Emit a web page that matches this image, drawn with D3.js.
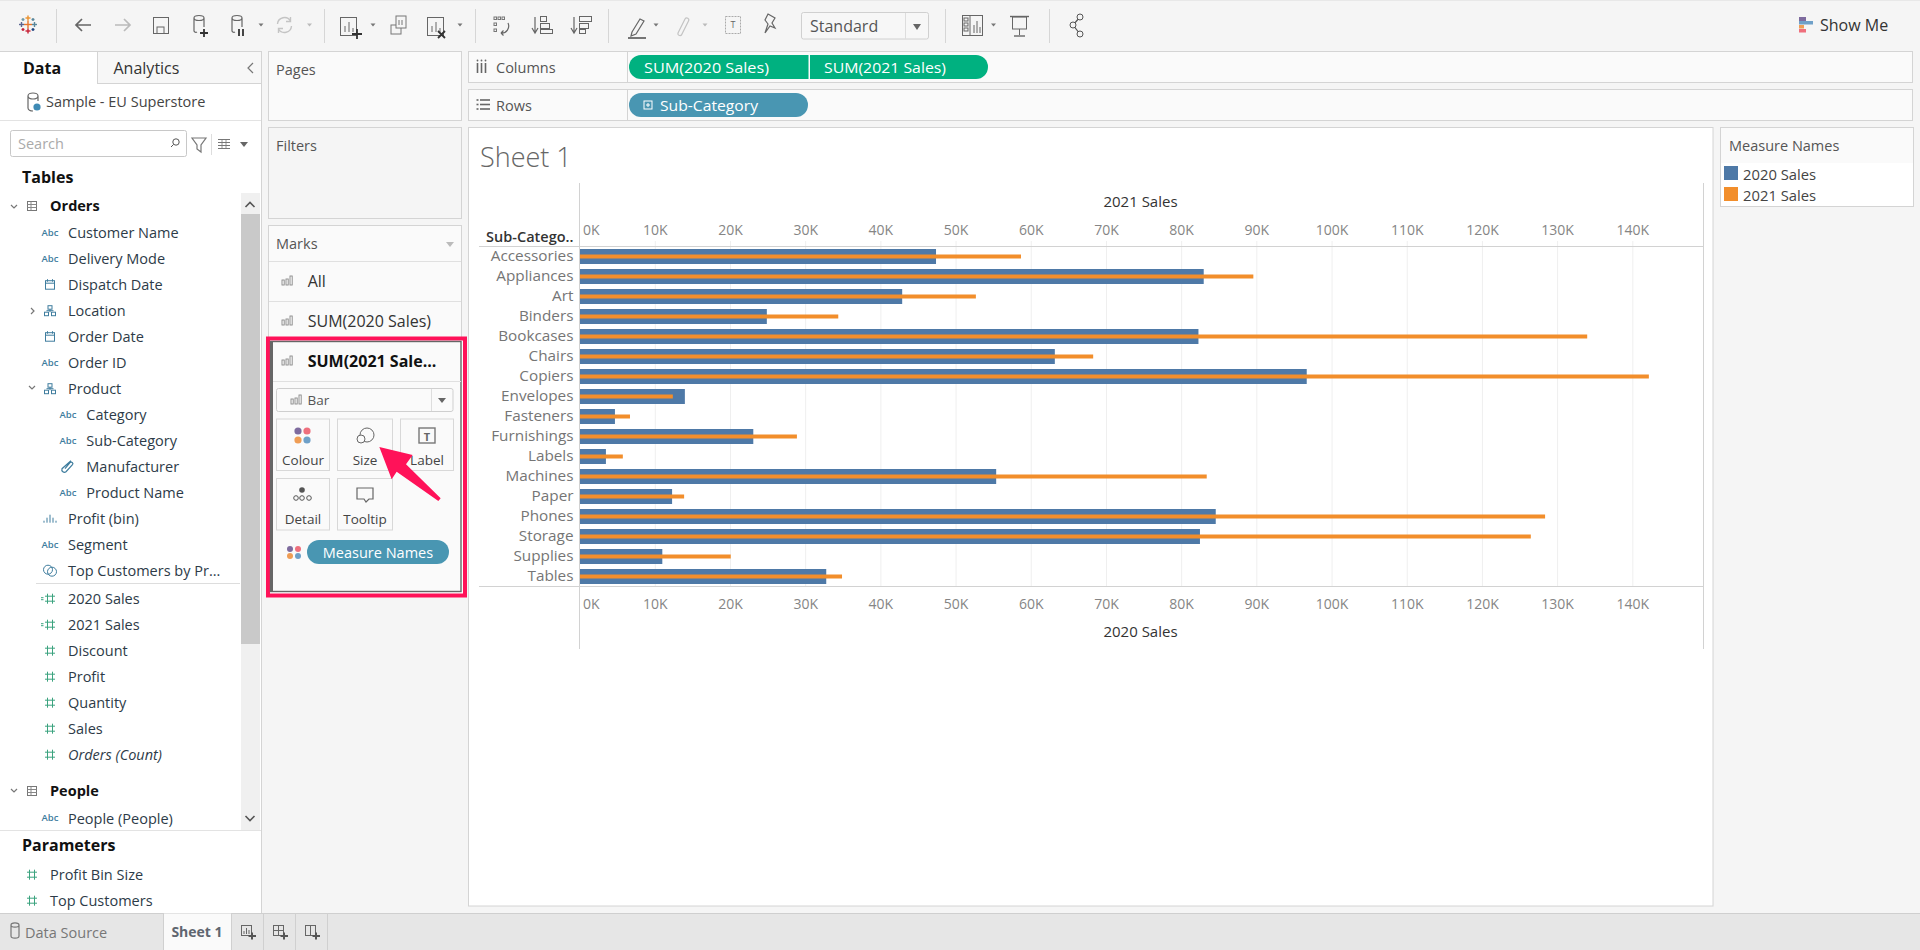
<!DOCTYPE html>
<html><head><meta charset="utf-8">
<script src="https://cdn.jsdelivr.net/npm/d3@7/dist/d3.min.js"></script>
<style>
html,body{margin:0;padding:0;background:#f5f5f5;overflow:hidden}
svg{display:block}
text{font-family:"Open Sans","Noto Sans",sans-serif}
</style></head><body>
<svg id="app" width="1920" height="950"></svg>
<script>
// ---------- chart data ----------
const subCategories = ["Accessories","Appliances","Art","Binders","Bookcases","Chairs","Copiers","Envelopes","Fasteners","Furnishings","Labels","Machines","Paper","Phones","Storage","Supplies","Tables"];
const sales2020 = [47.4,83.0,42.9,24.9,82.3,63.2,96.7,14.0,4.7,23.1,3.5,55.4,12.3,84.6,82.5,11.0,32.8];
const sales2021 = [58.7,89.6,52.7,34.4,134.0,68.3,142.2,12.4,6.7,28.9,5.75,83.4,13.9,128.4,126.5,20.1,34.9];
const axisTicks = [0,10,20,30,40,50,60,70,80,90,100,110,120,130,140];
const legendItems = ["2020 Sales","2021 Sales"];
const legendColors = ["#4e79a7","#f28e2b"];
// ---------- side pane lists ----------
const dimensionFields = [["Customer Name","abc",0],["Delivery Mode","abc",0],["Dispatch Date","date",0],["Location","hier",0],["Order Date","date",0],["Order ID","abc",0],["Product","hier",0],["Category","abc",1],["Sub-Category","abc",1],["Manufacturer","clip",1],["Product Name","abc",1],["Profit (bin)","bin",0],["Segment","abc",0],["Top Customers by Pr...","set",0]];
const measureFields = [["2020 Sales","calc"],["2021 Sales","calc"],["Discount","num"],["Profit","num"],["Quantity","num"],["Sales","num"],["Orders (Count)","num"]];
const parameterFields = ["Profit Bin Size","Top Customers"];

const base = d3.select("#app");
let svg = base;
const CARD="#fafafa", LINE="#d4d4d4", INK="#2d3b48", GREY="#666";
const FONT = '"Open Sans","Noto Sans",sans-serif';
function rect(x,y,w,h,fill,stroke,sw,rx){const r=svg.append("rect").attr("x",x).attr("y",y).attr("width",w).attr("height",h).attr("fill",fill||"none");if(stroke)r.attr("stroke",stroke).attr("stroke-width",sw||1);if(rx)r.attr("rx",rx);return r;}
function line(x1,y1,x2,y2,c,w){return svg.append("line").attr("x1",x1).attr("y1",y1).attr("x2",x2).attr("y2",y2).attr("stroke",c||LINE).attr("stroke-width",w||1);}
function text(s,x,y,size,fill,o){o=o||{};const t=svg.append("text").text(s).attr("x",x).attr("y",y).attr("font-size",size).attr("fill",fill||INK).attr("dominant-baseline","central").attr("text-anchor",o.anchor||"start");if(o.weight)t.attr("font-weight",o.weight);if(o.style)t.attr("font-style",o.style);if(o.family)t.attr("font-family",o.family);if(o.len)t.attr("textLength",o.len).attr("lengthAdjust","spacingAndGlyphs");return t;}
function path(d,o){o=o||{};return svg.append("path").attr("d",d).attr("fill",o.fill||"none").attr("stroke",o.stroke||(o.fill?"none":"#666")).attr("stroke-width",o.w||1.2);}

// ---------- page frame ----------
rect(0,0,1920,950,"#f5f5f5");
line(0,0.5,1920,0.5,"#e8e8e8");
// left data pane
rect(0,51,261,862,"#fff");
line(261.5,51,261.5,913,LINE);
rect(98,51,163,32.5,"#f7f7f7");
line(98,51.5,261,51.5,LINE);
line(0,51.5,98,51.5,LINE);
line(98,83.5,261,83.5,LINE);
line(97.5,51,97.5,84,LINE);
text("Data",23,67.5,16,"#111",{weight:700});
text("Analytics",113.5,67.5,16,"#333");
path("M253 63 L248 68 L253 73",{stroke:"#777",w:1.2});
// datasource
path("M28 96 a5 3 0 0 1 10 0 v5 M28 96 v12 a5 3 0 0 0 5 3 M28 96 a5 3 0 0 0 10 0",{stroke:"#666"});
svg.append("circle").attr("cx",37).attr("cy",107).attr("r",3.6).attr("fill","#3f8bb5");
text("Sample - EU Superstore",46,101.5,14.5,"#444");
line(0,120.5,261,120.5,"#e3e3e3");
// search
rect(10.5,130.5,176,26,"#fff","#c8c8c8",1,2);
text("Search",18,143.5,14.5,"#aaa");
svg.append("circle").attr("cx",176).attr("cy",142).attr("r",3.2).attr("fill","none").attr("stroke","#555");
line(173.5,144.5,171,147,"#555");
path("M192 138 H206 L201 145 V152 L197 149 V145 Z",{stroke:"#777"});
line(211.5,134,211.5,155,"#ddd");
[139,142,145,148].forEach(y=>line(218,y+0.5,230,y+0.5,"#777",1));
[222,226].forEach(x=>line(x,139,x,149,"#777",0.8));
path("M240 142 H248 L244 147 Z",{fill:"#666"});
text("Tables",22,176.5,16,"#111",{weight:700});
// scrollbar
rect(241,193,19,637,"#f0f0f0");
rect(241,214,19,430,"#c9c9c9");
path("M245.5 207 L250 202.5 L254.5 207",{stroke:"#555",w:1.6});
path("M245.5 816 L250 820.5 L254.5 816",{stroke:"#555",w:1.6});

function tableIcon(y){rect(27.5,y-4.5,9,9,"#fff","#777");line(27.5,y-1.5,36.5,y-1.5,"#888");line(27.5,y+1.5,36.5,y+1.5,"#888");line(31,y-4.5,31,y+4.5,"#888");}
function chevDown(x,y){path(`M${x-3} ${y-2} L${x} ${y+1} L${x+3} ${y-2}`,{stroke:"#777"});}
function fieldIcon(kind,x,y){
  const c="#3f7d9e", g="#3ba37e";
  if(kind==="abc") text("Abc",x,y-0.5,9.5,c,{anchor:"middle",weight:600});
  if(kind==="date"){rect(x-4.5,y-4,9,8.5,"none",c);line(x-4.5,y-1.5,x+4.5,y-1.5,c);line(x-2.5,y-5.5,x-2.5,y-3,c);line(x+2.5,y-5.5,x+2.5,y-3,c);}
  if(kind==="hier"){rect(x-2,y-5,4,3.5,"none",c);rect(x-5.5,y+1.5,4,3.5,"none",c);rect(x+1.5,y+1.5,4,3.5,"none",c);line(x,y-1.5,x,y+1.5,c);line(x-3.5,y,x+3.5,y,c);}
  if(kind==="clip"){path(`M${x-3} ${y+2} L${x+2} ${y-4} a1.6 1.6 0 0 1 2.5 2 L${x-2} ${y+5} a2.6 2.6 0 0 1 -4 -3 L${x+3} ${y-6}`,{stroke:c});}
  if(kind==="bin"){[-6,-3,0,3,6].forEach((d,i)=>line(x+d,y+4,x+d,y+4-[2,5,8,5,2][i],c));}
  if(kind==="set"){svg.append("circle").attr("cx",x-2).attr("cy",y-1).attr("r",4.5).attr("fill","none").attr("stroke",c);svg.append("circle").attr("cx",x+2).attr("cy",y+1).attr("r",4.5).attr("fill","none").attr("stroke",c);}
  if(kind==="num"||kind==="calc"){[-2.5,2.5].forEach(d=>{line(x+d,y-5,x+d,y+5,g);line(x-5,y+d,x+5,y+d,g);});if(kind==="calc"){line(x-9,y-1,x-6.5,y-1,g);line(x-9,y+1,x-6.5,y+1,g);}}
}
chevDown(14,207);tableIcon(206);
text("Orders",50,205.5,14.5,"#111",{weight:700});
dimensionFields.forEach((f,i)=>{
  const y=232.7+26*i, x=f[2]?86.3:68;
  fieldIcon(f[1],f[2]?68:50,y);
  text(f[0],x,y,14.5,INK);
});
path("M31 308 L34 311 L31 314",{stroke:"#777"});
chevDown(32,388);
line(36,583.5,240,583.5,"#ddd");
measureFields.forEach((f,i)=>{
  const y=598.7+26*i;
  fieldIcon(f[1],50,y);
  text(f[0],68,y,14.5,INK,i===6?{style:"italic"}:{});
});
chevDown(14,791);tableIcon(791);
text("People",50,790.5,14.5,"#111",{weight:700});
fieldIcon("abc",50,818);text("People (People)",68,818,14.5,INK);
line(0,830.5,261,830.5,"#e3e3e3");
text("Parameters",22,845,16,"#111",{weight:700});
parameterFields.forEach((f,i)=>{const y=874.7+26*i;fieldIcon("num",32,y);text(f,50,y,14.5,INK);});
// bottom tabs
rect(0,913,1920,37,"#e6e6e6");
line(0,913.5,1920,913.5,"#cfcfcf");
path("M11 925 a4 2.2 0 0 1 8 0 v11 a4 2.2 0 0 1 -8 0 Z M11 925 a4 2.2 0 0 0 8 0",{stroke:"#777"});
text("Data Source",25,932,14.5,"#777");
rect(163,913.5,68,37,"#fafafa");
line(163.5,913,163.5,950,"#d0d0d0");line(231.5,913,231.5,950,"#d0d0d0");
text("Sheet 1",197,931,14,"#5f6670",{anchor:"middle",weight:700});
[263.5,295.5,327.5].forEach(x=>line(x,913,x,950,"#d0d0d0"));
[[241,0],[273,1],[305,2]].forEach(([x,k])=>{
  rect(x+.5,925.5,10,10,"none","#666");
  if(k===0){line(x+3,934,x+3,931,"#666");line(x+5.5,934,x+5.5,928,"#666");line(x+8,934,x+8,930,"#666");}
  if(k===1){line(x,930.5,x+10.5,930.5,"#666");line(x+5.5,925.5,x+5.5,935.5,"#666");}
  if(k===2){line(x+5.5,925.5,x+5.5,935.5,"#666");}
  path(`M${x+7.5} ${936} H${x+15} M${x+11} ${932.5} V${939.5}`,{stroke:"#555",w:2});
});

// ---------- toolbar ----------
[56.5,324.5,475.5,608.5,945.5,1049.5].forEach(x=>line(x,9,x,43,"#d6d6d6"));
// logo
[[28,24.5,"#e8762b",4],[28,18,"#eb912b",2.5],[34.5,24.5,"#59879b",2.5],[28,31,"#c72035",2.5],[21.5,24.5,"#5b6591",2.5],[23,19.5,"#7099a6",1.5],[33,19.5,"#59879b",1.5],[23,29.5,"#c72035",1.5],[33,29.5,"#1f447e",1.5]].forEach(([x,y,c,s])=>{
  line(x-s,y,x+s,y,c,1.4);line(x,y-s,x,y+s,c,1.4);
});
svg = base.append("g").attr("transform","translate(0,-5)");
path("M91 30 H76 M82 24 L76 30 L82 36",{stroke:"#666",w:1.7});
path("M115 30 H130 M124 24 L130 30 L124 36",{stroke:"#bbb",w:1.7});
rect(153.5,22.5,15,16,"none","#666");rect(157,32,7,6.5,"none","#666");
[[199,"+"],[237,"="]].forEach(([x,k])=>{
  path(`M${x-5} 23 a5 2.5 0 0 1 10 0 v9 M${x-5} 23 v13 a2 2 0 0 0 3 1 M${x-5} 23 a5 2.5 0 0 0 10 0`,{stroke:"#666"});
  if(k==="+")path(`M${x+1} 38 H${x+9} M${x+5} 34 V42`,{stroke:"#333",w:1.8});
  else path(`M${x+2} 34 V41 M${x+6} 34 V41`,{stroke:"#333",w:1.8});
});
function caret(x,y,c){path(`M${x-2.5} ${y-1.5} H${x+2.5} L${x} ${y+1.5} Z`,{fill:c||"#777"});}
caret(261,30);
path("M277.5 29 a7 7 0 0 1 13 -3 M290.5 22 V26.5 H286 M291.5 31 a7 7 0 0 1 -13 3 M278.5 38 V33.5 H283",{stroke:"#c4c4c4",w:1.4});
caret(309.5,30,"#bbb");
rect(340.5,22.5,16,18,"none","#666");[345,349,353].forEach((x,i)=>line(x,37,x,[31,27,33][i],"#666"));
path("M352 39 H362 M357 34 V44",{stroke:"#333",w:1.8});
caret(373,30);
rect(391,30,10,9,"none","#777");rect(396,21,10,12,"#f5f5f5","#777");[399,402].forEach(x=>line(x,30,x,25,"#777"));
rect(427.5,22.5,16,18,"none","#666");[432,436,440].forEach((x,i)=>line(x,37,x,[31,27,33][i],"#666"));
path("M438 36 L445 43 M445 36 L438 43",{stroke:"#333",w:1.8});
caret(460,30);
[494,498,502].forEach(x=>{rect(x,22,2.5,2.5,"none","#777");});
[494,494].forEach((x,i)=>rect(x,28+i*6,2.5,2.5,"none","#777"));
path("M508 28 a7 7 0 0 1 -7 10 M501 38 l2.5 -2.5 M501 38 l2.5 2.5",{stroke:"#666"});
[[535,0],[574,1]].forEach(([x,k])=>{
  path(`M${x} 22 V37 M${x-3} 33 L${x} 38 L${x+3} 33`,{stroke:"#666"});
  if(k===0){rect(x+5.5,21.5,6,5,"none","#666");rect(x+5.5,28.5,9,5,"none","#666");rect(x+5.5,34.5,12,4,"none","#666");}
  else{rect(x+5.5,21.5,12,5,"none","#666");rect(x+5.5,28.5,9,5,"none","#666");rect(x+5.5,34.5,6,4,"none","#666");}
});
path("M632 37 L640 24 L644 26 L636 39 L631 41 Z",{stroke:"#666"});line(628,43,646,43,"#555",1.6);
caret(656,30);
path("M678 38 L685 24 a2 2 0 0 1 3.5 2 L682 39 a2 2 0 0 1 -4 -1",{stroke:"#c4c4c4"});caret(705,30,"#bbb");
rect(725.5,21.5,15,17,"none","#aaa").attr("stroke-dasharray","2 1");
text("T",733,29.5,9,"#666",{anchor:"middle",family:"Liberation Serif"});
path("M768 19 L775 23 L772 28 L775 33 L770 31 L765 38 L768 29 L765 25 Z",{stroke:"#666"});
rect(962.5,20.5,20,20,"none","#666");line(970,20,970,40,"#666");
[[964,23],[964,28],[964,33]].forEach(([x,y])=>rect(x,y,4,3,"none","#666"));
[974,977,980].forEach((x,i)=>line(x,38,x,[30,26,32][i],"#666"));
caret(993.5,30);
rect(1012.5,22,14,12,"none","#666");line(1010,21.5,1029,21.5,"#666",1.4);line(1019.5,34,1019.5,40,"#666");line(1014,41,1025,41,"#666",1.4);
path("M1080 22 L1073 30 L1080 39",{stroke:"#555"});
[[1080,22],[1073,30],[1080,39]].forEach(([x,y])=>svg.append("circle").attr("cx",x).attr("cy",y).attr("r",3).attr("fill","#f5f5f5").attr("stroke","#555"));
svg = base;
// Standard dropdown
rect(801.5,12.5,127,26.5,"#f7f7f7","#d0d0d0",1,2);
line(905.5,13,905.5,39,"#ddd");
text("Standard",810,26,16,"#555");
path("M913 24 H921 L917 30 Z",{fill:"#666"});
// Show Me
rect(1799,17,7,4,"#7e6b9e");rect(1799,21,14,3.5,"#6fa0c8");rect(1799,25,5,3.5,"#ef9d55");rect(1799,29,7,3.5,"#ef6f7c");
text("Show Me",1820,25,16,"#333");

// ---------- shelves ----------
rect(268.5,51.5,193,69,CARD,LINE);
text("Pages",276,69,14.5,"#555");
rect(268.5,127.5,193,91,"#f5f5f5",LINE);
text("Filters",276,145,14.5,"#555");
[[51.5,"Columns",67],[89.5,"Rows",105]].forEach(([y,l,ty])=>{
  rect(468.5,y,1444,31,CARD,LINE);
  line(627.5,y,627.5,y+31,LINE);
  text(l,496,ty,14.5,"#555");
});
[0,1,2].forEach(i=>{line(477.5+i*4,63,477.5+i*4,73,"#666",1.6);svg.append("circle").attr("cx",477.5+i*4).attr("cy",60.5).attr("r",0.9).attr("fill","#666");});
[0,1,2].forEach(i=>{line(480,100+i*4.5,490,100+i*4.5,"#666",1.6);line(476.5,100+i*4.5,478.5,100+i*4.5,"#666",1.6);});
// pills
function pill(x0,x1,y,h,c,cap){
  const r=h/2;
  const d = cap==="both"?`M${x0+r} ${y} H${x1-r} A${r} ${r} 0 0 1 ${x1-r} ${y+h} H${x0+r} A${r} ${r} 0 0 1 ${x0+r} ${y} Z`
    : cap==="left"?`M${x0+r} ${y} H${x1} V${y+h} H${x0+r} A${r} ${r} 0 0 1 ${x0+r} ${y} Z`
    : `M${x0} ${y} H${x1-r} A${r} ${r} 0 0 1 ${x1-r} ${y+h} H${x0} Z`;
  svg.append("path").attr("d",d).attr("fill",c);
}
pill(629,808.5,55,24,"#00b180","left");
pill(810,988,55,24,"#00b180","right");
text("SUM(2020 Sales)",644,67,14.5,"#fff",{len:125});
text("SUM(2021 Sales)",824,67,14.5,"#fff",{len:122});
pill(629,808,93,24,"#4996b2","both");
rect(644,101,8,8,"none","#fff");line(646,105,650,105,"#fff");line(648,103,648,107,"#fff");
text("Sub-Category",660,105,14.5,"#fff",{len:98});

// ---------- marks card ----------
rect(268.5,225.5,193,370,CARD,LINE);
text("Marks",276,243.5,14.5,"#555");
path("M446 242 H454 L450 247 Z",{fill:"#bbb"});
line(269,261.5,461,261.5,"#e0e0e0");line(269,301.5,461,301.5,"#e0e0e0");
function barIcon(x,y,c){c=c||"#888";[0,4,8].forEach((d,i)=>{const h=[5,6,9][i];rect(x+d,y+4-h,2.2,h,"none",c,0.9);});}
barIcon(282,281);text("All",307.7,281,16,"#333");
barIcon(282,321);text("SUM(2020 Sales)",307.7,321,16,"#333");
// highlighted panel
rect(268,338.5,197,257,"#fff","#ff1259",4);
rect(270.5,341.5,190.5,250,CARD,"#666",1.4);
rect(270,341,3,251,"#666");
barIcon(282,361);
text("SUM(2021 Sale...",307.7,361,16,"#111",{weight:700});
line(273,381.5,461,381.5,"#e0e0e0");
rect(276.5,388.5,176.5,23,CARD,"#cfcfcf",1,2);
line(431.5,389,431.5,411,"#ddd");
path("M438 398 H446 L442 403 Z",{fill:"#666"});
barIcon(291,400);
text("Bar",307.5,400,13.5,"#555");
const markButtons=[["Colour",276.5,419,53],["Size",337.5,419,55],["Label",400.5,419,53],["Detail",276.5,478.5,53],["Tooltip",337.5,478.5,55]];
markButtons.forEach(b=>{rect(b[1],b[2],b[3],51.5,CARD,"#d8d8d8");text(b[0],b[1]+b[3]/2,b[2]===419?460:519,13.5,"#444",{anchor:"middle"});});
[[298,431,"#7e6b9e"],[307,431,"#ee6f7d"],[298,440,"#ef9d55"],[307,440,"#6fa0c8"]].forEach(([x,y,c])=>svg.append("circle").attr("cx",x).attr("cy",y).attr("r",3.6).attr("fill",c));
svg.append("circle").attr("cx",367).attr("cy",435).attr("r",7).attr("fill",CARD).attr("stroke","#666");
svg.append("circle").attr("cx",361).attr("cy",439).attr("r",4).attr("fill",CARD).attr("stroke","#666");
rect(419,428,16,15,"none","#777",1.4);
text("T",427,436,11,"#666",{anchor:"middle",family:"Liberation Serif",weight:700});
svg.append("circle").attr("cx",302).attr("cy",490).attr("r",2.8).attr("fill","#555");
[296,302,309].forEach(x=>svg.append("circle").attr("cx",x).attr("cy",498).attr("r",2.3).attr("fill","none").attr("stroke","#555"));
path("M357 488 H373 V499 H369 L366 502 L364 499 H357 Z",{stroke:"#666"});
pill(307,449,540,24,"#4996b2","both");
text("Measure Names",378,552,14.5,"#fff",{anchor:"middle"});
[[290,549,"#7e6b9e"],[298,549,"#ee6f7d"],[290,556,"#ef9d55"],[298,556,"#6fa0c8"]].forEach(([x,y,c])=>svg.append("circle").attr("cx",x).attr("cy",y).attr("r",3).attr("fill",c));

// ---------- chart ----------
rect(468.5,127.5,1244.5,778.5,"#fff",LINE);
text("Sheet 1",480,156,27,"#666",{weight:300,family:'Lato,"Open Sans",sans-serif'});

const x = d3.scaleLinear().domain([0,149.4]).range([579.6,1703]);
const y = d3.scaleBand().domain(subCategories).range([246.5,586.5]).paddingInner(0.25).paddingOuter(0.125);
const tickFmt = d=>d+"K";
const gridBottom = 586, gridTop = 241;

const gridG = svg.append("g").attr("transform",`translate(0,${gridBottom})`)
  .call(d3.axisTop(x).tickValues(axisTicks.slice(1)).tickSize(gridBottom-gridTop).tickFormat(""));
gridG.select(".domain").remove();
gridG.selectAll("line").attr("stroke","#efefef");

// bars
svg.append("g").selectAll("rect").data(subCategories).join("rect")
  .attr("x",x(0)).attr("y",d=>y(d)).attr("height",y.bandwidth())
  .attr("width",(d,i)=>x(sales2020[i])-x(0)).attr("fill",legendColors[0]);
svg.append("g").selectAll("rect").data(subCategories).join("rect")
  .attr("x",x(0)).attr("y",d=>y(d)+y.bandwidth()/2-2).attr("height",4)
  .attr("width",(d,i)=>x(sales2021[i])-x(0)).attr("fill",legendColors[1]);

// frame lines
line(479,246.5,1703,246.5,"#d2d2d2",1.2);
line(479,586.5,1703,586.5,"#d2d2d2",1.2);
line(579.5,183,579.5,649,"#d2d2d2");
line(1703.5,183,1703.5,649,"#d2d2d2");

// axes
function styleAxis(g){
  g.select(".domain").remove();
  g.selectAll("line").remove();
  g.selectAll("text").attr("font-family",FONT).attr("font-size",14).attr("fill","#858585");
  g.selectAll("text").filter(d=>d===0).attr("x",3).attr("text-anchor","start");
}
svg.append("g").attr("transform","translate(0,229)")
  .call(d3.axisBottom(x).tickValues(axisTicks).tickFormat(tickFmt).tickSize(0).tickPadding(0))
  .call(styleAxis).selectAll("text").attr("dy",null).attr("y",0).attr("dominant-baseline","central");
svg.append("g").attr("transform","translate(0,603)")
  .call(d3.axisBottom(x).tickValues(axisTicks).tickFormat(tickFmt).tickSize(0).tickPadding(0))
  .call(styleAxis).selectAll("text").attr("dy",null).attr("y",0).attr("dominant-baseline","central");
const yAxis = svg.append("g").attr("transform","translate(573.5,0)")
  .call(d3.axisLeft(y).tickSize(0).tickPadding(0));
yAxis.select(".domain").remove();
yAxis.selectAll("text").attr("font-family",FONT).attr("font-size",15.3).attr("fill","#757575");
text("Sub-Catego..",573.5,236,14.5,"#333",{anchor:"end",weight:600});
text("2021 Sales",1140.5,200.5,15,"#333",{anchor:"middle"});
text("2020 Sales",1140.5,631,15,"#333",{anchor:"middle"});

// legend
rect(1720.5,127.5,193,79,"#fff",LINE);
rect(1721,128,192,35,CARD);
text("Measure Names",1729,145.2,14.5,"#555");
legendItems.forEach((l,i)=>{
  const yy=166+i*21;
  rect(1724,yy,14,14,legendColors[i]);
  text(l,1743,yy+7.5,14.8,"#444");
});

// annotation arrow
const ax=p=>370+p/3, ay=p=>435+p/3;
const arrowPts=[[28,36],[128,60],[108,88],[212,190],[205,198],[80,110],[65,133]];
svg.append("path").attr("d","M"+arrowPts.map(p=>ax(p[0])+" "+ay(p[1])).join(" L")+" Z").attr("fill","#ff1259");
</script>
</body></html>
